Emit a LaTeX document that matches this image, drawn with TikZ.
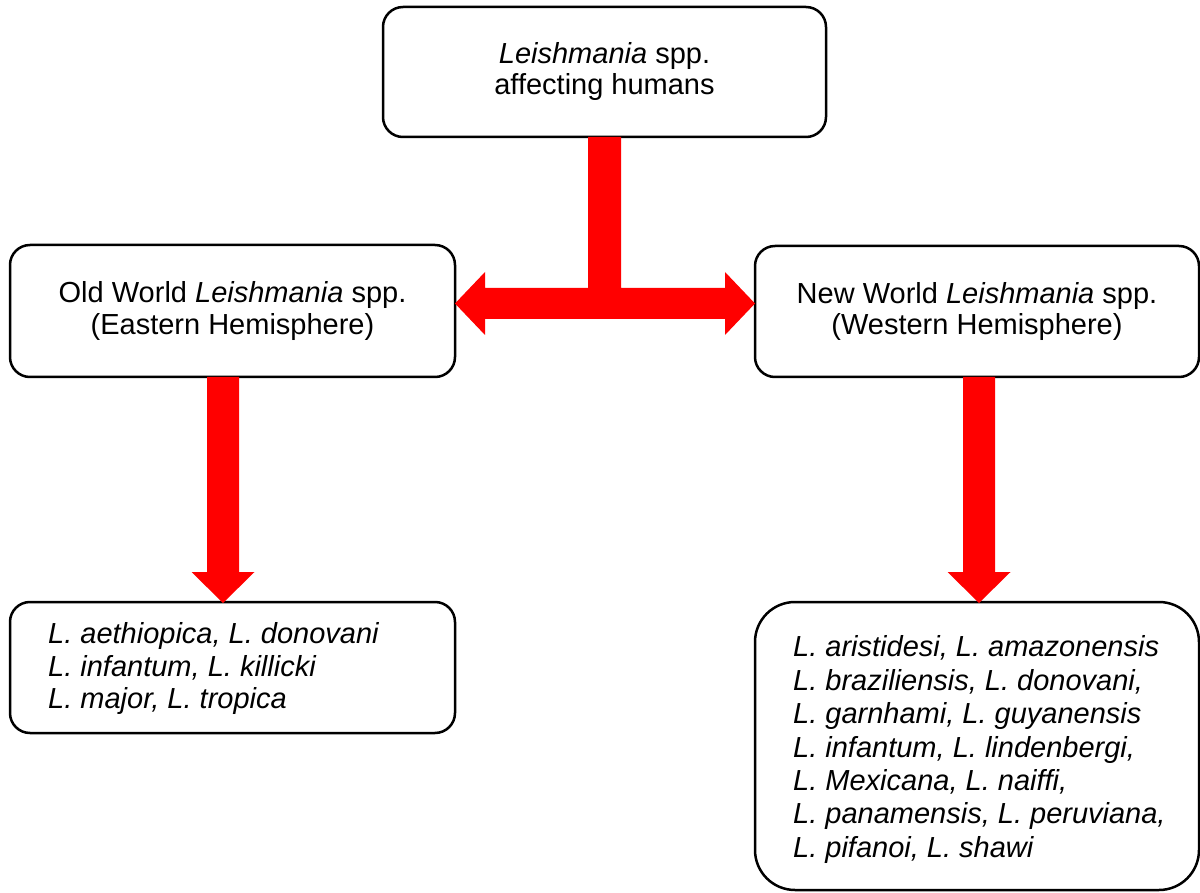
\documentclass[tikz,border=0pt]{standalone}
\usepackage{fontspec}
\setmainfont{Liberation Sans}
\usetikzlibrary{calc}
\definecolor{arrowred}{RGB}{255,0,0}
\begin{document}
\begin{tikzpicture}[x=1pt,y=-1pt,
  box/.style={draw=black, line width=2.5pt, rounded corners=20pt, fill=white,
    inner sep=0pt, outer sep=0pt, align=center,
    font=\fontsize{29}{31.5}\selectfont},
  listtext/.style={inner sep=0pt, align=left,
    font=\fontsize{29}{33}\selectfont\itshape},
  flow/.style={fill=arrowred, draw=none}]
\useasboundingbox (0,0) rectangle (1200,893);
% boxes
\node[box, minimum width=443pt, minimum height=130pt, font=\fontsize{29}{31}\selectfont] (top) at (604.5,72)
  {\textit{Leishmania} spp.\\affecting humans};
\node[box, minimum width=445pt, minimum height=132pt] (old) at (232.5,311)
  {Old World \textit{Leishmania} spp.\\(Eastern Hemisphere)};
\node[box, minimum width=444pt, minimum height=131pt] (new) at (977,311.5)
  {New World \textit{Leishmania} spp.\\(Western Hemisphere)};
\node[box, minimum width=445pt, minimum height=131pt] (oldlist) at (232.5,667.5) {};
\node[box, minimum width=444pt, minimum height=288pt, rounded corners=40pt] (newlist) at (977,746) {};
% list texts
\node[listtext, anchor=west, font=\fontsize{29}{32.5}\selectfont\itshape] (oldtxt) at ($(oldlist.west)+(38,1)$)
  {L. aethiopica, L. donovani\\L. infantum, L. killicki\\L. major, L. tropica};
\node[listtext, anchor=west, font=\fontsize{29}{33.4}\selectfont\itshape] (newtxt) at ($(newlist.west)+(38,3.5)$)
  {L. aristidesi, L. amazonensis\\L. braziliensis, L. donovani,\\L. garnhami, L. guyanensis\\L. infantum, L. lindenbergi,\\L. Mexicana, L. naiffi,\\L. panamensis, L. peruviana,\\L. pifanoi, L. shawi};
% T-shaped double arrow
\coordinate (jn) at ($(top.south)+(0,166.5)$);
\coordinate (lt) at (old.east |- jn);
\coordinate (rt) at (new.west |- jn);
\fill[flow] ($(top.south)+(-16.5,0)$) -- ($(jn)+(-16.5,-15.5)$)
  -- ($(lt)+(30,-15.5)$) -- ($(lt)+(30,-31.5)$) -- (lt)
  -- ($(lt)+(30,31.5)$) -- ($(lt)+(30,15.5)$)
  -- ($(rt)+(-30,15.5)$) -- ($(rt)+(-30,31.5)$) -- (rt)
  -- ($(rt)+(-30,-31.5)$) -- ($(rt)+(-30,-15.5)$)
  -- ($(jn)+(16.5,-15.5)$) -- ($(top.south)+(16.5,0)$) -- cycle;
% down arrows
\coordinate (ls) at ($(old.south)+(-9.5,0)$);
\coordinate (le) at ($(oldlist.north)+(-9.5,1)$);
\fill[flow] ($(ls)+(-16,0)$) -- ($(le)+(-16,-31)$) -- ($(le)+(-31.5,-31)$) -- (le)
  -- ($(le)+(31.5,-31)$) -- ($(le)+(16,-31)$) -- ($(ls)+(16,0)$) -- cycle;
\coordinate (rs) at ($(new.south)+(2,0)$);
\coordinate (re) at ($(newlist.north)+(2,1)$);
\fill[flow] ($(rs)+(-16,0)$) -- ($(re)+(-16,-31)$) -- ($(re)+(-31.5,-31)$) -- (re)
  -- ($(re)+(31.5,-31)$) -- ($(re)+(16,-31)$) -- ($(rs)+(16,0)$) -- cycle;
\end{tikzpicture}
\end{document}
